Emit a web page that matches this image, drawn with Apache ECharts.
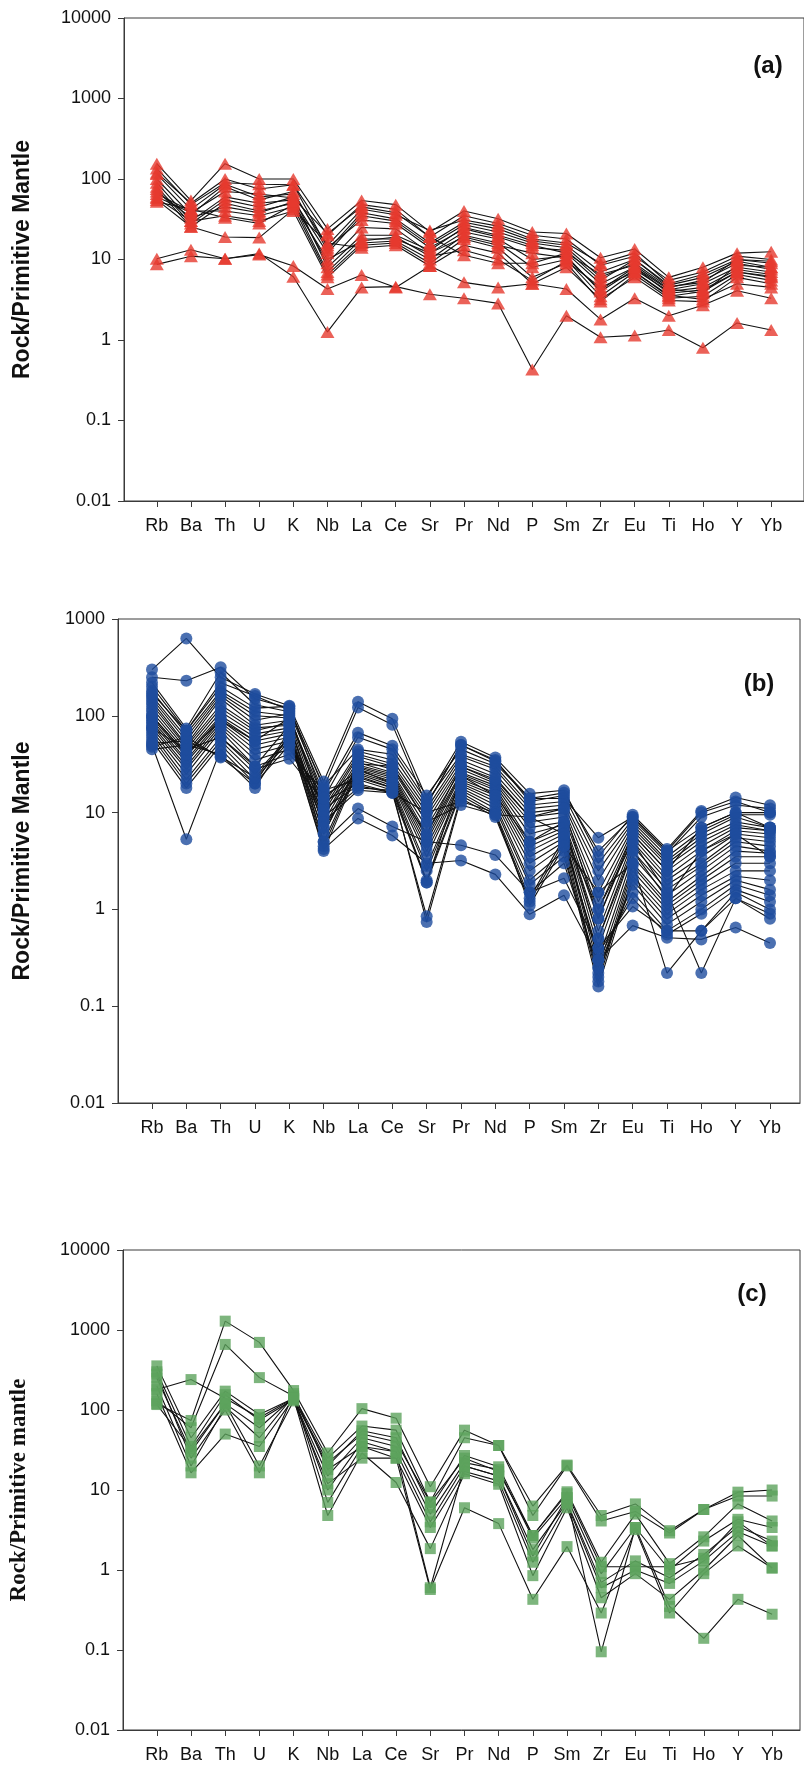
<!DOCTYPE html>
<html>
<head>
<meta charset="utf-8">
<script src="https://cdn.jsdelivr.net/npm/echarts@6/dist/echarts.min.js"></script>
<style>
  html, body { margin: 0; padding: 0; background: #fff; }
  #chart { width: 804px; height: 1771px; }
</style>
</head>
<body>
<div id="chart"></div>
<script>
// Trace elements, in spider-diagram order
const elements = ['Rb','Ba','Th','U','K','Nb','La','Ce','Sr','Pr','Nd','P','Sm','Zr','Eu','Ti','Ho','Y','Yb'];

// (a) rock / primitive mantle, one row per sample
const samplesA = [
  [155, 54, 155, 100, 100, 24, 54, 48, 22, 40, 32, 22, 21, 10.5, 13.5, 6, 8, 12, 12.5],
  [135, 48, 90, 86, 85, 20, 48, 42, 19, 35, 28, 20, 18, 8.5, 11, 5.5, 7, 11, 10],
  [115, 42, 86, 60, 65, 15, 42, 36, 23, 31, 26, 18, 16, 9, 12, 5, 6.5, 10, 9],
  [100, 36, 80, 55, 70, 13, 38, 32, 16, 29, 24, 17, 15, 7, 10, 4.8, 6, 9.5, 8],
  [90, 30, 60, 50, 55, 12, 35, 30, 15, 27, 22, 16, 14, 6, 9, 4.5, 5.5, 9, 7.5],
  [80, 28, 55, 45, 60, 8, 20, 20, 13, 25, 20, 15, 12, 5, 8, 4.2, 5, 8, 7],
  [75, 25.5, 50, 40, 50, 7, 18, 18, 12, 22, 18, 10, 11, 4, 7.5, 4, 4.5, 7.5, 6.5],
  [65, 40, 40, 35, 45, 6.5, 16, 17, 10, 20, 16, 8, 10, 3.5, 7, 3.5, 4, 7, 6],
  [58, 30, 35, 30, 40, 6, 15, 16, 9, 18, 14, 6, 9, 3, 6.5, 3.3, 3.5, 6.5, 5.5],
  [55, 25.5, 19, 18.7, 42, 16, 14, 15, 8.3, 15, 12, 5, 8, 3.2, 6, 3.1, 3, 6, 5],
  [52, 42, 33, 28, 48, 10, 17, 19, 11, 13, 10, 5.5, 9.5, 4.5, 7, 3.6, 3.2, 5, 4.5],
  [60, 38, 70, 65, 58, 21, 45, 38, 19, 11.3, 9, 9, 12, 6.5, 8.5, 4.3, 3.8, 8.5, 8],
  [120, 50, 100, 75, 85, 14, 31, 28, 14, 24, 19, 14, 13, 5.5, 10, 4.6, 5.2, 10, 9.5],
  [70, 33, 45, 38, 52, 9, 25, 24, 12, 19, 15, 12, 10.5, 4.2, 8, 3.8, 4.2, 7, 6.2],
  [10.2, 13.2, 10.2, 11.9, 6.1, 1.26, 4.5, 4.6, 3.7, 3.3, 2.85, 0.43, 2.0, 1.08, 1.14, 1.33, 0.8, 1.63, 1.33],
  [8.7, 11, 10.2, 11.5, 8.3, 4.3, 6.4, 4.5, 8.3, 5.2, 4.5, 5, 4.3, 1.8, 3.3, 2.0, 2.7, 4.1, 3.3]
];

// (b) rock / primitive mantle, one row per sample
const samplesB = [
  [300, 630, 250, 168, 127, 21, 140, 93, 14, 54, 37, 15.7, 17, 3.5, 9.5, 4.2, 10.4, 14.3, 11.9],
  [250, 230, 318, 150, 120, 18, 122, 81, 12, 50, 35, 13, 15, 3, 8.5, 3.8, 9, 12, 11],
  [220, 74, 280, 130, 110, 16, 67, 49, 15, 45, 32, 14, 14, 5.5, 9, 4, 7, 10, 10],
  [200, 70, 200, 120, 125, 14, 60, 45, 13, 40, 30, 12, 13, 2.5, 8, 3.5, 6.5, 9.5, 9.5],
  [180, 65, 180, 110, 100, 12, 43, 35, 11, 38, 28, 11, 12, 2, 7.5, 3.2, 6, 9, 7],
  [160, 60, 170, 100, 95, 11, 40, 32, 10, 35, 25, 10, 11, 1.5, 7, 3, 5.5, 8, 7],
  [150, 55, 160, 90, 105, 10, 38, 30, 9, 32, 23, 9, 10, 1.2, 6.5, 2.8, 5, 7.5, 6.5],
  [140, 50, 150, 80, 90, 9, 35, 28, 8, 30, 21, 8, 9, 1, 6, 2.5, 4.5, 7, 6.5],
  [130, 48, 130, 75, 80, 8, 33, 26, 7, 28, 20, 7, 8, 0.8, 5.5, 2.2, 4, 6.5, 6],
  [120, 45, 120, 70, 85, 7, 31, 25, 6, 26, 19, 6, 7.5, 0.6, 5, 2, 3.5, 6, 5.5],
  [110, 42, 110, 65, 75, 6, 30, 24, 5.5, 25, 18, 5, 7, 0.5, 4.5, 1.8, 3, 5.5, 5],
  [100, 40, 100, 60, 70, 5, 29, 23, 5, 24, 17, 4.5, 6.5, 0.4, 4, 1.6, 2.8, 5, 4.5],
  [95, 38, 95, 55, 65, 4.5, 28, 22, 4.5, 22, 16, 4, 6, 0.3, 3.5, 1.4, 2.5, 4.5, 4],
  [90, 35, 90, 50, 60, 4, 27, 21, 4, 21, 15, 3.5, 5.5, 0.25, 3, 1.2, 2.2, 4, 3.8],
  [85, 33, 85, 45, 55, 12, 26, 20, 3.5, 20, 14, 3, 5, 0.2, 2.8, 1.1, 2, 3.5, 3.5],
  [80, 30, 80, 40, 50, 10, 25, 19, 2.8, 19, 13, 2.5, 4.5, 0.18, 2.5, 1, 1.8, 3, 3],
  [75, 28, 75, 35, 45, 15, 24, 18, 2.5, 18, 12, 2, 4, 0.16, 2.2, 0.9, 1.6, 2.5, 2.5],
  [70, 25, 70, 30, 40, 17, 22, 17, 2, 17, 11, 1.8, 3.5, 0.22, 2, 0.8, 1.4, 2.2, 2],
  [65, 22, 60, 28, 36, 13, 20, 16, 1.9, 16, 10, 1.5, 3, 0.25, 1.8, 0.7, 1.2, 2, 1.6],
  [60, 20, 55, 25, 60, 11, 19, 16, 0.85, 15, 9.5, 1.3, 5.5, 0.3, 1.5, 0.6, 1, 1.8, 1.4],
  [55, 18, 50, 22, 55, 9, 18, 17, 0.74, 14, 9, 1.2, 5, 0.35, 1.3, 0.55, 0.9, 1.6, 1.2],
  [50, 5.3, 45, 20, 50, 8, 17, 16, 10, 13, 10, 1.1, 4.5, 1.5, 3, 0.22, 0.6, 1.5, 1],
  [45, 50, 40, 18, 65, 6, 32, 30, 8, 12, 9.5, 9, 6, 1, 5, 1.5, 0.22, 1.3, 0.8],
  [48, 60, 37, 20, 70, 5, 11, 7.2, 5, 4.6, 3.65, 1.5, 2.1, 0.4, 1.07, 0.6, 0.6, 1.3, 0.9],
  [52, 55, 38, 23, 60, 4.2, 8.7, 5.8, 3, 3.2, 2.3, 0.89, 1.4, 0.3, 0.68, 0.51, 0.49, 0.65, 0.45],
  [170, 70, 220, 160, 115, 19, 45, 40, 12, 50, 34, 14, 16, 4, 9, 4, 10, 13, 10],
  [100, 40, 90, 55, 95, 14, 28, 20, 6, 30, 22, 9, 11, 0.8, 6, 2.5, 7, 10, 7],
  [75, 45, 60, 30, 80, 7, 23, 18, 1.9, 24, 15, 5, 8, 0.5, 4, 1.3, 4, 6, 3.5]
];

// (c) rock / primitive mantle, one row per sample
const samplesC = [
  [120, 74, 1290, 700, 175, 29, 104, 79, 11, 56, 36, 6.3, 20.5, 4.8, 6.7, 3.1, 5.7, 9.4, 10],
  [130, 60, 660, 254, 150, 25, 63, 56, 7.1, 45, 36, 4.8, 20, 4.1, 5.4, 2.9, 5.7, 8.4, 8.4],
  [356, 45, 172, 88, 140, 20, 55, 45, 6, 27, 19.5, 2.7, 9.5, 1.25, 5, 1.2, 2.6, 6.7, 4.1],
  [300, 35, 155, 75, 135, 15, 45, 35, 5, 22, 18, 2.5, 8, 0.9, 3.4, 1.0, 2.3, 4.3, 3.4],
  [250, 30, 120, 60, 145, 10, 40, 30, 4, 20, 15, 1.8, 7, 0.7, 1.3, 0.8, 1.56, 3.5, 2.3],
  [200, 20, 110, 45, 150, 7, 35, 25, 3.4, 17, 13, 1.25, 6.7, 0.6, 1.0, 0.68, 1.3, 3, 2.0],
  [160, 16.4, 50, 35, 140, 4.8, 29, 12.4, 1.85, 16, 11.8, 0.85, 6, 0.45, 0.9, 0.43, 1.0, 2.7, 1.06],
  [117, 33, 120, 20, 130, 12, 25, 25, 0.57, 6, 3.8, 0.43, 1.96, 0.29, 3.2, 0.29, 0.9, 2, 1.06],
  [280, 25, 100, 16.4, 160, 18, 35, 30, 0.6, 20, 15, 1.5, 8, 0.095, 3.4, 0.35, 0.14, 0.43, 0.28],
  [180, 240, 140, 80, 140, 22, 50, 40, 7, 25, 17, 2.7, 9, 1.1, 1.1, 1.1, 1.4, 4, 2.0]
];

const panelLabels = ['(a)', '(b)', '(c)'];
const yTitles = ['Rock/Primitive Mantle', 'Rock/Primitive Mantle', 'Rock/Primitive mantle'];
const yMax = [10000, 1000, 10000];

const sans = "'Liberation Sans', Arial, Helvetica, sans-serif";
const serif = "'Liberation Serif', 'Times New Roman', serif";

// panel frames in pixels: plot box plus the pixel x of the first and last element tick
const frames = [
  { left: 124, top: 18,   width: 684, height: 483, first: 157, last: 775, nameGap: 90, label: [768, 66] },
  { left: 118, top: 619,  width: 682, height: 484, first: 152, last: 770, nameGap: 84, label: [759, 684] },
  { left: 120, top: 1250, width: 680, height: 480, first: 154, last: 772, nameGap: 92, label: [752, 1294] }
];
const marks = [
  { symbol: 'triangle', color: '#e63a2e', size: [14, 12] },
  { symbol: 'circle',   color: '#1e4c9d', size: 12 },
  { symbol: 'rect',     color: '#5da35c', size: 11 }
];
const titleFonts = [sans, sans, serif];

function fmtLog(v) { return String(parseFloat(Number(v).toPrecision(6))); }

const grids = [], xAxes = [], yAxes = [], series = [], graphics = [];
const tickIdx = elements.map((_, i) => i);

[samplesA, samplesB, samplesC].forEach((rows, k) => {
  const f = frames[k];
  const step = (f.last - f.first) / (elements.length - 1);
  grids.push({ left: f.left, top: f.top, width: f.width, height: f.height,
               show: true, borderColor: '#3a3a3a', borderWidth: 1, backgroundColor: 'transparent' });
  xAxes.push({
    type: 'value', gridIndex: k,
    min: -(f.first - f.left) / step,
    max: (elements.length - 1) + (f.left + f.width - f.last) / step,
    axisLine: { show: true, onZero: false, lineStyle: { color: '#3a3a3a', width: 1 } },
    axisTick: { show: true, customValues: tickIdx, length: 6, lineStyle: { color: '#3a3a3a' } },
    axisLabel: { customValues: tickIdx, formatter: v => elements[Math.round(v)], margin: 16,
                 fontSize: 18, color: '#111', fontFamily: sans },
    splitLine: { show: false }
  });
  yAxes.push({
    type: 'log', logBase: 10, gridIndex: k, min: 0.01, max: yMax[k],
    axisLine: { show: true, onZero: false, lineStyle: { color: '#3a3a3a', width: 1 } },
    axisTick: { show: true, length: 6, lineStyle: { color: '#3a3a3a' } },
    minorTick: { show: false },
    splitLine: { show: false },
    axisLabel: { formatter: fmtLog, fontSize: 18, color: '#111', margin: 13, fontFamily: sans },
    name: yTitles[k], nameLocation: 'middle', nameGap: f.nameGap,
    nameTextStyle: { fontWeight: 'bold', fontSize: 23, color: '#111', fontFamily: titleFonts[k] }
  });
  rows.forEach(r => {
    series.push({
      type: 'line', xAxisIndex: k, yAxisIndex: k, z: 2, silent: true,
      symbol: 'none', showSymbol: false,
      lineStyle: { color: '#111', width: 1.1 },
      data: r.map((v, i) => [i, v])
    });
  });
  series.push({
    type: 'scatter', xAxisIndex: k, yAxisIndex: k, z: 3, silent: true,
    symbol: marks[k].symbol, symbolSize: marks[k].size,
    itemStyle: { color: marks[k].color },
    data: rows.flatMap(r => r.map((v, i) => [i, v]))
  });
  graphics.push({
    type: 'text', x: f.label[0], y: f.label[1],
    style: { text: panelLabels[k], font: "bold 24px 'Liberation Sans', Arial, sans-serif",
             fill: '#111', textAlign: 'center', textVerticalAlign: 'middle' }
  });
});

const chart = echarts.init(document.getElementById('chart'), null, { renderer: 'canvas' });
chart.setOption({
  animation: false,
  backgroundColor: '#fff',
  grid: grids, xAxis: xAxes, yAxis: yAxes, series: series,
  graphic: graphics
});
</script>
</body>
</html>
